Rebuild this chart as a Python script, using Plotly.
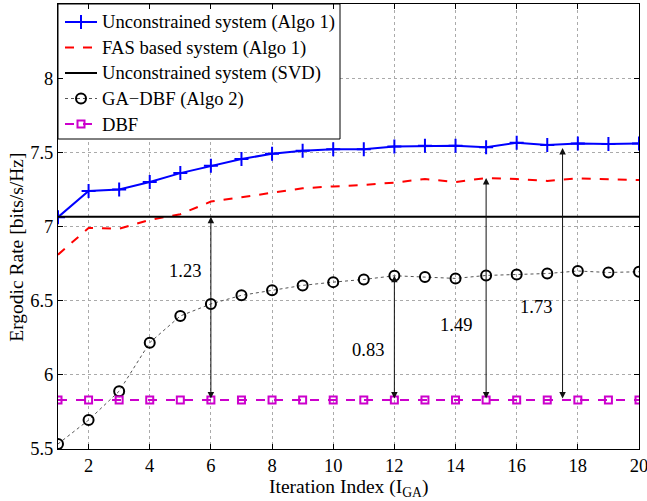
import plotly.graph_objects as go

iterations = list(range(1, 21))
unconstrained_algo1 = [7.063, 7.24, 7.25, 7.30, 7.36, 7.41, 7.455, 7.49, 7.51, 7.52,
                       7.52, 7.54, 7.545, 7.545, 7.535, 7.565, 7.55, 7.56, 7.557, 7.56]
fas_algo1 = [6.81, 6.99, 6.985, 7.045, 7.083, 7.168, 7.197, 7.228, 7.258, 7.27,
             7.28, 7.296, 7.32, 7.30, 7.327, 7.32, 7.307, 7.325, 7.32, 7.313]
svd_rate = 7.065
ga_dbf = [5.534, 5.695, 5.89, 6.217, 6.397, 6.478, 6.536, 6.57, 6.603, 6.625,
          6.643, 6.668, 6.66, 6.65, 6.67, 6.676, 6.683, 6.70, 6.69, 6.695]
dbf_rate = 5.83

gap_x = [6, 12, 15, 17.5]
gap_top = [7.065, 6.668, 7.327, 7.53]
gap_labels = ["1.23", "0.83", "1.49", "1.73"]
label_x = [5.15, 11.13, 14.0, 16.62]
label_y = [6.70, 6.168, 6.336, 6.46]

y_ticks = [5.5, 6, 6.5, 7, 7.5, 8]
x_ticks = list(range(2, 21, 2))

series_names = ["Unconstrained system (Algo 1)", "FAS based system (Algo 1)",
                "Unconstrained system (SVD)", "GA\u2212DBF (Algo 2)", "DBF"]

FONT = "Liberation Serif"
BLUE, RED, BLACK, GRAY, MAG = "#0000ff", "#ff0000", "#000000", "#555555", "#cc00cc"

styles = [
    dict(line=dict(color=BLUE, width=2),
         marker=dict(symbol="cross-thin-open", size=10, color=BLUE, line=dict(color=BLUE, width=2)),
         mode="lines+markers"),
    dict(line=dict(color=RED, width=2, dash="dash"), mode="lines"),
    dict(line=dict(color=BLACK, width=2), mode="lines"),
    dict(line=dict(color=GRAY, width=1, dash="dot"),
         marker=dict(symbol="circle-open", size=10, color=BLACK, line=dict(color=BLACK, width=2)),
         mode="lines+markers"),
    dict(line=dict(color=MAG, width=2, dash="dash"),
         marker=dict(symbol="square-open", size=7, color=MAG, line=dict(color=MAG, width=2)),
         mode="lines+markers"),
]
series_y = [unconstrained_algo1, fas_algo1, [svd_rate] * len(iterations), ga_dbf,
            [dbf_rate] * len(iterations)]

fig = go.Figure()
for name, ys, st in zip(series_names, series_y, styles):
    fig.add_trace(go.Scatter(x=iterations, y=ys, name=name, showlegend=False, **st))

# --- custom legend drawn on an overlay axis in pixel units ---
LX0, LX1, LY0, LY1 = 58, 340, 4, 139
fig.add_trace(go.Scatter(
    x=[LX0, LX1, LX1, LX0, LX0], y=[LY0, LY0, LY1, LY1, LY0],
    xaxis="x2", yaxis="y2", mode="lines", fill="toself", fillcolor="white",
    line=dict(color=BLACK, width=1), showlegend=False, hoverinfo="skip"))
row_y = [22, 47.5, 73, 98.5, 124]
annotations = []
for ry, name, st in zip(row_y, series_names, styles):
    fig.add_trace(go.Scatter(x=[65, 97], y=[ry, ry], xaxis="x2", yaxis="y2",
                             mode="lines", line=st["line"], showlegend=False, hoverinfo="skip"))
    if "marker" in st:
        fig.add_trace(go.Scatter(x=[81], y=[ry], xaxis="x2", yaxis="y2", mode="markers",
                                 marker=st["marker"], showlegend=False, hoverinfo="skip"))
    annotations.append(dict(text=name, x=100, y=ry, xref="x2", yref="y2",
                            xanchor="left", yanchor="middle", showarrow=False,
                            font=dict(family=FONT, size=18.6, color=BLACK)))

for gx, gt in zip(gap_x, gap_top):
    annotations.append(dict(
        x=gx, y=gt, ax=gx, ay=dbf_rate, xref="x", yref="y", axref="x", ayref="y",
        showarrow=True, arrowhead=2, startarrowhead=2, arrowside="end+start",
        arrowsize=1.3, arrowwidth=1, arrowcolor="#111111", text=""))
for lx, ly, lt in zip(label_x, label_y, gap_labels):
    annotations.append(dict(
        x=lx, y=ly, xref="x", yref="y", text=lt, showarrow=False,
        font=dict(family=FONT, size=18.5, color=BLACK)))

annotations.append(dict(
    text="Iteration Index (I<sub>GA</sub>)", x=0.5, y=-0.087, xref="paper", yref="paper",
    xanchor="center", yanchor="middle", showarrow=False,
    font=dict(family=FONT, size=19.5, color=BLACK)))
annotations.append(dict(
    text="Ergodic Rate [bits/s/Hz]", x=-0.071, y=0.454, xref="paper", yref="paper",
    xanchor="center", yanchor="middle", showarrow=False, textangle=-90,
    font=dict(family=FONT, size=19.5, color=BLACK)))

axis_common = dict(
    showline=True, linecolor=BLACK, linewidth=1, mirror="ticks",
    ticks="inside", ticklen=5, tickcolor=BLACK,
    showgrid=True, gridcolor="#aaaaaa", griddash="dot", gridwidth=1,
    zeroline=False, tickfont=dict(family=FONT, size=18.5, color=BLACK),
    ticklabeloverflow="allow", automargin=False)

fig.update_layout(
    width=647, height=501,
    margin=dict(l=58, r=8, t=4, b=52),
    paper_bgcolor="white", plot_bgcolor="white",
    font=dict(family=FONT, size=18, color=BLACK),
    xaxis=dict(range=[1, 20], tickvals=x_ticks, **axis_common),
    yaxis=dict(range=[5.5, 8.5], tickvals=y_ticks, **axis_common),
    xaxis2=dict(range=[58, 639], overlaying="x", visible=False, fixedrange=True),
    yaxis2=dict(range=[449, 4], overlaying="y", visible=False, fixedrange=True),
    annotations=annotations,
    showlegend=False)

fig.write_html("out.html")
